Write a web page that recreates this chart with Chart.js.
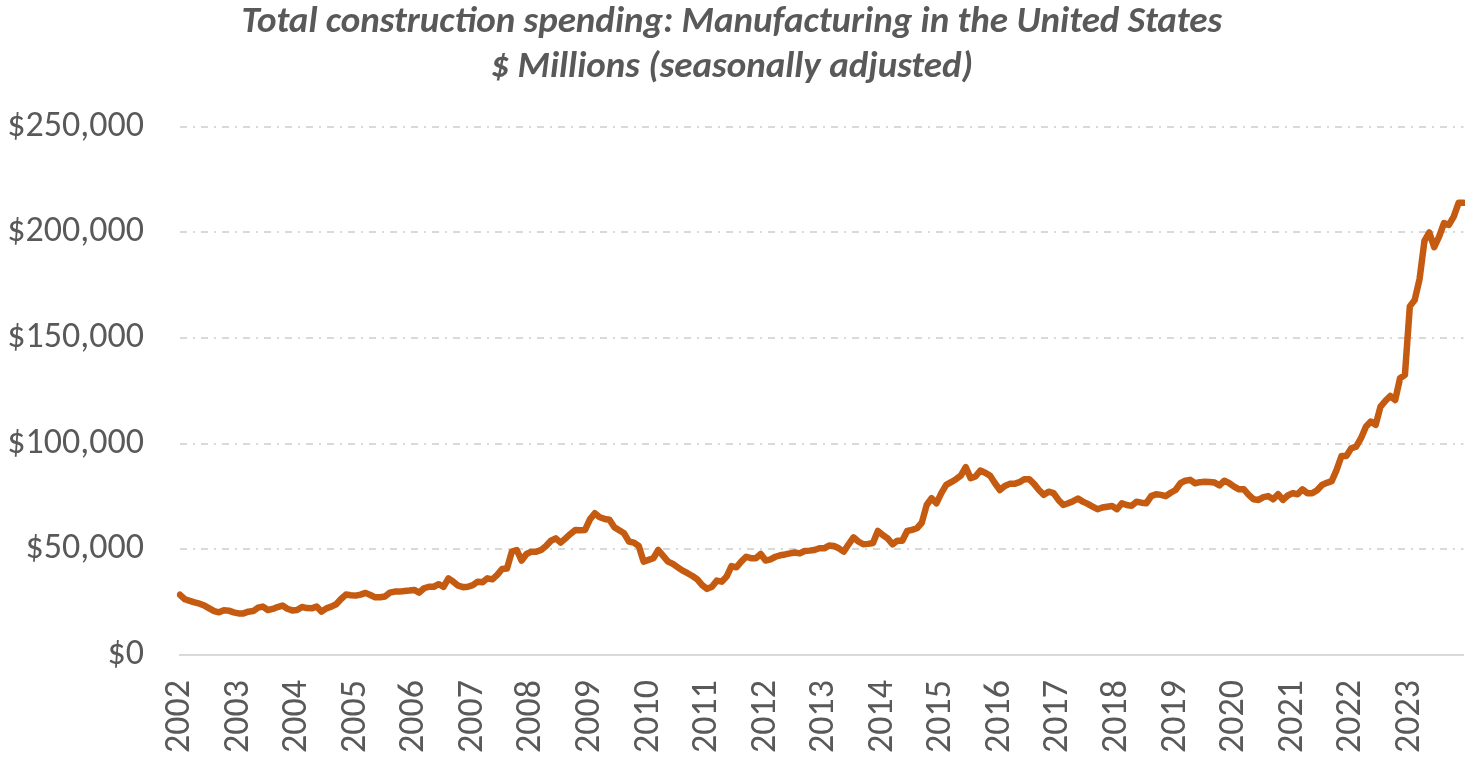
<!DOCTYPE html>
<html>
<head>
<meta charset="utf-8">
<script src="https://cdn.jsdelivr.net/npm/chart.js@4.4.1/dist/chart.umd.min.js"></script>
<style>
  html, body { margin: 0; padding: 0; background: #fff; }
  #wrap { width: 1465px; height: 759px; position: relative; }
</style>
</head>
<body>
<div id="wrap"><canvas id="chart"></canvas></div>
<script>
  // INPUT DATA - monthly, $ millions (seasonally adjusted)

  const years = [2002, 2003, 2004, 2005, 2006, 2007, 2008, 2009, 2010, 2011, 2012,
                 2013, 2014, 2015, 2016, 2017, 2018, 2019, 2020, 2021, 2022, 2023];

  const v2002 = [28500, 26400, 25600, 24900, 24300, 23400, 22100, 20800, 20200, 21200, 21000, 20200];
  const v2003 = [19700, 19700, 20500, 20800, 22400, 22900, 21300, 21800, 22700, 23400, 21900, 21100];
  const v2004 = [21300, 22700, 22200, 22100, 22900, 20500, 22100, 22900, 24000, 26500, 28600, 28300];
  const v2005 = [28100, 28600, 29400, 28400, 27300, 27300, 27700, 29500, 30000, 30000, 30300, 30500];
  const v2006 = [30800, 29500, 31600, 32300, 32300, 33500, 32300, 36300, 34700, 32800, 32100, 32300];
  const v2007 = [33100, 34700, 34400, 36300, 35800, 37900, 40700, 40900, 48900, 49700, 44700, 47800];
  const v2008 = [48900, 48900, 49700, 51600, 54100, 55200, 53200, 55200, 57300, 59200, 59000, 59200];
  const v2009 = [64200, 67100, 65200, 64400, 64000, 60500, 59000, 57600, 53700, 53200, 51600, 44200];
  const v2010 = [45000, 45800, 49700, 46900, 44200, 43100, 41500, 39900, 38700, 37400, 35800, 33100];
  const v2011 = [31300, 32300, 35200, 34700, 37100, 42100, 41500, 44200, 46500, 45800, 45800, 47800];
  const v2012 = [44700, 45300, 46500, 47200, 47600, 48100, 48500, 48100, 49200, 49400, 49700, 50500];
  const v2013 = [50500, 51800, 51600, 50500, 48900, 52400, 55700, 53700, 52400, 52600, 53000, 58700];
  const v2014 = [56800, 55200, 52400, 54100, 54100, 58700, 59200, 60000, 62600, 71000, 74200, 71800];
  const v2015 = [76600, 80500, 81800, 83200, 84900, 88900, 83700, 84500, 87300, 86300, 84800, 81300];
  const v2016 = [78100, 80000, 81000, 81000, 81800, 83200, 83200, 81000, 78100, 75800, 77300, 76600];
  const v2017 = [73400, 71000, 71800, 72800, 74000, 72600, 71500, 70200, 69000, 69800, 70200, 70500];
  const v2018 = [69000, 71800, 71000, 70600, 72500, 72100, 71800, 75200, 76100, 75800, 75200, 76800];
  const v2019 = [78100, 81300, 82500, 82900, 81300, 81800, 82000, 81900, 81600, 80300, 82500, 81300];
  const v2020 = [79700, 78400, 78400, 75800, 73700, 73400, 74700, 75200, 73700, 76100, 73400, 75500];
  const v2021 = [76600, 76100, 78400, 76600, 76600, 78000, 80500, 81500, 82300, 87600, 94200, 94200];
  const v2022 = [97800, 98600, 102600, 108000, 110500, 108900, 117600, 120300, 122600, 120700, 131000, 132600];
  const v2023 = [165000, 168000, 178000, 196000, 200000, 193000, 198000, 204400, 203600, 207500, 214000, 214000];

  const yTicks = [0, 50000, 100000, 150000, 200000, 250000];

  const titleLines = [
    "Total construction spending: Manufacturing in the United States",
    "$ Millions (seasonally adjusted)"
  ];

  // BUILD SERIES

  const byYear = [v2002, v2003, v2004, v2005, v2006, v2007, v2008, v2009, v2010, v2011, v2012,
                  v2013, v2014, v2015, v2016, v2017, v2018, v2019, v2020, v2021, v2022, v2023];
  const labels = [];
  const values = [];
  years.forEach(function (yr, i) {
    byYear[i].forEach(function (v, m) {
      labels.push(yr + "-" + String(m + 1).padStart(2, "0"));
      values.push(v);
    });
  });

  const fontFamily = "Carlito, Calibri, Lato, 'Open Sans', sans-serif";
  const textGray = "#595959";
  const gridGray = "#D9D9D9";

  // PLOTTING

  new Chart(document.getElementById("chart"), {
    type: "line",
    data: {
      labels: labels,
      datasets: [{
        data: values,
        borderColor: "#C55A11",
        borderWidth: 6.5,
        pointRadius: 0,
        tension: 0,
        fill: false,
        borderJoinStyle: "round",
        borderCapStyle: "round"
      }]
    },
    options: {
      responsive: true,
      maintainAspectRatio: false,
      animation: false,
      layout: { padding: { left: 0, right: 1.5, top: 0, bottom: 0 } },
      plugins: {
        legend: { display: false },
        tooltip: { enabled: false },
        title: {
          display: true,
          text: titleLines,
          color: textGray,
          font: { family: fontFamily, size: 37, weight: "bold", style: "italic", lineHeight: 1.2 },
          padding: { top: 1, bottom: 37 }
        }
      },
      scales: {
        x: {
          type: "category",
          offset: false,
          grid: { display: false, drawTicks: false },
          border: { display: true, color: gridGray, width: 2 },
          afterBuildTicks: function (scale) {
            // one tick per January
            scale.ticks = scale.ticks.filter(function (t) {
              return labels[t.value].endsWith("-01");
            });
          },
          ticks: {
            autoSkip: false,
            minRotation: 90,
            maxRotation: 90,
            padding: 25,
            color: textGray,
            font: { family: fontFamily, size: 36 },
            callback: function (val) {
              return labels[val].slice(0, 4);
            }
          },
          afterFit: function (scale) {
            scale.height = 104;
            scale.paddingLeft = 0;
            scale.paddingRight = 0;
          }
        },
        y: {
          min: yTicks[0],
          max: yTicks[yTicks.length - 1],
          grid: { color: gridGray, lineWidth: 2, drawTicks: false },
          border: { display: false, dash: [7, 6, 2, 6] },
          ticks: {
            stepSize: yTicks[1] - yTicks[0],
            padding: 36,
            color: textGray,
            font: { family: fontFamily, size: 36 },
            callback: function (v) { return "$" + v.toLocaleString("en-US"); }
          },
          afterFit: function (scale) { scale.width = 180; }
        }
      }
    }
  });
</script>
</body>
</html>
